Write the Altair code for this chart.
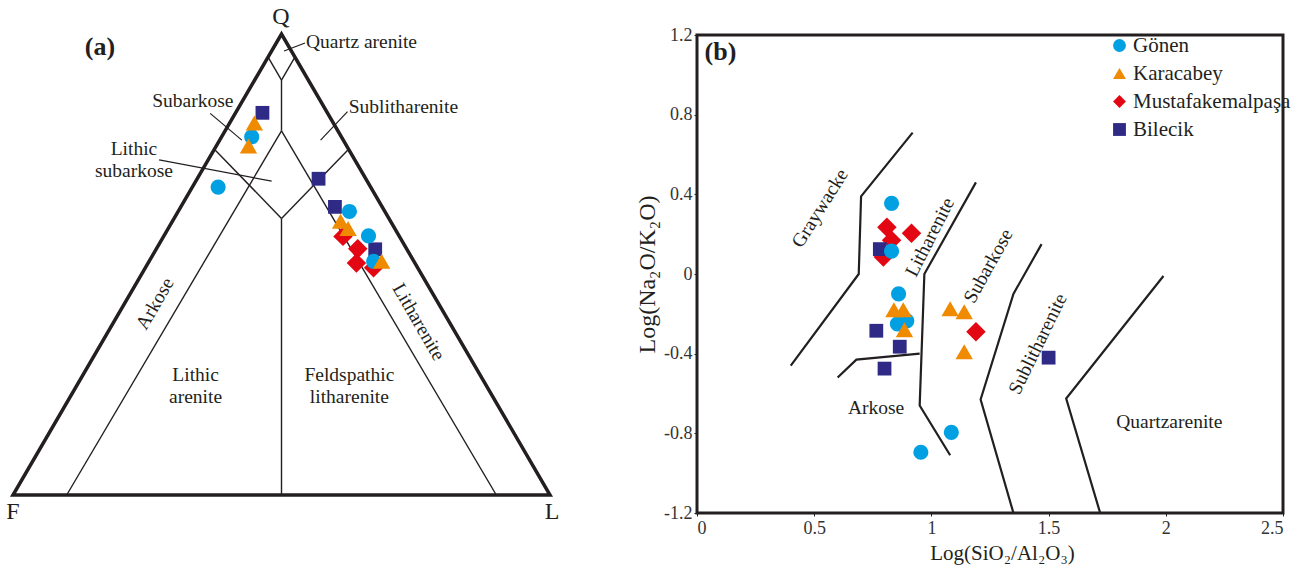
import json
import altair as alt
import pandas as pd

FONT = "Liberation Serif"
INK = "#231f20"
LABEL_SIZE = 19.5

# ---------------- shared series definitions ----------------
groups = ["Gönen", "Karacabey", "Mustafakemalpaşa", "Bilecik"]
group_colors = ["#00a0e3", "#f08a00", "#e30613", "#2e2a85"]
group_shapes = ["circle", "triangle-up", "diamond", "square"]
group_sizes = [230, 300, 380, 190]

# ---------------- panel (a): QFL percentages ----------------
qfl_group = (["Mustafakemalpaşa"] * 4 + ["Bilecik"] * 4 + ["Gönen"] * 5 + ["Karacabey"] * 5)
qfl_Q = [56.1, 53.4, 50.3, 49.3, 82.9, 68.6, 62.5, 53.3, 77.7, 66.8, 61.5, 56.2, 50.7, 80.7, 75.7, 59.4, 57.8, 50.7]
qfl_F = [10.5, 9.1, 10.9, 8.2, 12.1, 8.8, 8.8, 5.9, 16.7, 28.4, 6.6, 5.7, 7.5, 14.7, 18.3, 9.3, 8.7, 6.0]
qfl_L = [33.4, 37.5, 38.8, 42.5, 5.0, 22.6, 28.7, 40.8, 5.6, 4.8, 31.9, 38.1, 41.8, 4.6, 6.0, 31.3, 33.5, 43.3]

# outer triangle (Q, L in %)
tri_Q = [0, 0, 100]
tri_L = [0, 100, 0]

# field boundaries (pairs of ternary points, Q and L in %)
bnd_seg = [0, 0, 1, 1, 2, 2, 3, 3, 4, 4, 5, 5, 6, 6, 7, 7]
bnd_Q = [95, 90, 95, 90, 90, 79, 79, 0, 79, 0, 75, 60, 75, 60, 60, 0]
bnd_L = [0, 5, 5, 5, 5, 10.5, 10.5, 10, 10.5, 90, 0, 20, 25, 20, 20, 50]

# leader lines (diagram coordinates: base fraction, Q fraction)
lead_seg = [0, 0, 1, 1, 2, 2, 3, 3]
lead_x = [0.5047, 0.5438, 0.3672, 0.4261, 0.6229, 0.5728, 0.2721, 0.4817]
lead_y = [0.9631, 0.9805, 0.8278, 0.7698, 0.8317, 0.7698, 0.7269, 0.6809]

# labels of panel (a)
laba_text = ["Subarkose", "Sublitharenite", "Lithic", "subarkose", "Lithic", "arenite", "Feldspathic", "litharenite"]
laba_x = [0.335, 0.727, 0.2253, 0.2253, 0.34, 0.34, 0.6264, 0.6264]
laba_y = [0.855, 0.842, 0.7505, 0.703, 0.2603, 0.2126, 0.2603, 0.2126]
rota_text = ["Arkose", "Litharenite"]
rota_x = [0.2644, 0.7553]
rota_y = [0.415, 0.3753]
rota_ang = [300, 60]
vert_text = ["Q", "F", "L"]
vert_x = [0.499, 0.0, 1.004]
vert_y = [1.037, -0.037, -0.037]

# ---------------- panel (b): Log(SiO2/Al2O3) vs Log(Na2O/K2O) ----------------
b_group = (["Mustafakemalpaşa"] * 5 + ["Bilecik"] * 5 + ["Gönen"] * 7 + ["Karacabey"] * 6)
b_x = [0.81, 0.83, 0.795, 0.915, 1.19,
       0.78, 0.765, 0.865, 0.80, 1.50,
       0.83, 0.83, 0.86, 0.855, 0.895, 1.085, 0.955,
       0.84, 0.88, 0.885, 1.08, 1.14, 1.14]
b_y = [0.235, 0.17, 0.085, 0.205, -0.29,
       0.125, -0.285, -0.365, -0.475, -0.42,
       0.355, 0.115, -0.10, -0.25, -0.235, -0.795, -0.895,
       -0.18, -0.18, -0.28, -0.175, -0.19, -0.39]

line_id = [0, 0, 0, 0, 1, 1, 1, 2, 2, 2, 2, 3, 3, 3, 3, 4, 4, 4]
line_x = [0.40, 0.69, 0.70, 0.92, 0.60, 0.68, 0.95, 1.08, 0.95, 0.97, 1.19, 1.35, 1.21, 1.35, 1.47, 1.72, 1.575, 1.99]
line_y = [-0.46, 0.0, 0.39, 0.71, -0.52, -0.43, -0.40, -0.91, -0.66, 0.0, 0.46, -1.2, -0.63, -0.10, 0.15, -1.2, -0.625, -0.01]

labb_text = ["Graywacke", "Litharenite", "Subarkose", "Sublitharenite"]
labb_x = [0.525, 0.994, 1.243, 1.454]
labb_y = [0.33, 0.185, 0.04, -0.351]
labb_ang = [302, 297, 299, 296]
hlab_text = ["Arkose", "Quartzarenite"]
hlab_x = [0.764, 2.015]
hlab_y = [-0.673, -0.745]

x_ticks = [0, 0.5, 1, 1.5, 2, 2.5]
y_ticks = [-1.2, -0.8, -0.4, 0, 0.4, 0.8, 1.2]

# marker size looked up per group inside Vega
SIZE_EXPR = "%s[indexof(%s, datum.group)]" % (json.dumps(group_sizes), json.dumps(groups, ensure_ascii=False))

# ================= panel (a) =================
XA = alt.Scale(domain=[-0.02421, 1.09311], nice=False, zero=False)
YA = alt.Scale(domain=[-0.03905, 0.99783], nice=False, zero=False)

def tern_chart(df):
    return alt.Chart(df).transform_calculate(
        px="(datum.L + datum.Q / 2) / 100", py="datum.Q / 100"
    )

tri_df = pd.DataFrame({"Q": tri_Q, "L": tri_L, "i": list(range(len(tri_Q)))})
outer = tern_chart(tri_df).mark_line(
    interpolate="linear-closed", color=INK, strokeWidth=3.5, strokeJoin="miter"
).encode(
    x=alt.X("px:Q", scale=XA, axis=None),
    y=alt.Y("py:Q", scale=YA, axis=None),
    order="i:Q",
)

bnd_df = pd.DataFrame({"seg": bnd_seg, "Q": bnd_Q, "L": bnd_L, "i": list(range(len(bnd_Q)))})
bounds_a = tern_chart(bnd_df).mark_line(color=INK, strokeWidth=1.4).encode(
    x=alt.X("px:Q", scale=XA, axis=None),
    y=alt.Y("py:Q", scale=YA, axis=None),
    detail="seg:N",
    order="i:Q",
)

lead_df = pd.DataFrame({"seg": lead_seg, "x": lead_x, "y": lead_y, "i": list(range(len(lead_x)))})
leaders = alt.Chart(lead_df).mark_line(color=INK, strokeWidth=1.2).encode(
    x=alt.X("x:Q", scale=XA, axis=None),
    y=alt.Y("y:Q", scale=YA, axis=None),
    detail="seg:N",
    order="i:Q",
)

pts_a_df = pd.DataFrame({"group": qfl_group, "Q": qfl_Q, "F": qfl_F, "L": qfl_L})
pts_a = tern_chart(pts_a_df).transform_calculate(sz=SIZE_EXPR).mark_point(
    filled=True, opacity=1, strokeWidth=0
).encode(
    x=alt.X("px:Q", scale=XA, axis=None),
    y=alt.Y("py:Q", scale=YA, axis=None),
    color=alt.Color("group:N", scale=alt.Scale(domain=groups, range=group_colors), legend=None),
    shape=alt.Shape("group:N", scale=alt.Scale(domain=groups, range=group_shapes), legend=None),
    size=alt.Size("sz:Q", scale=None),
)

laba = alt.Chart(pd.DataFrame({"t": laba_text, "x": laba_x, "y": laba_y})).mark_text(
    font=FONT, fontSize=LABEL_SIZE, color=INK, align="center", baseline="middle"
).encode(x=alt.X("x:Q", scale=XA, axis=None), y=alt.Y("y:Q", scale=YA, axis=None), text="t:N")

rota = alt.Chart(pd.DataFrame({"t": rota_text, "x": rota_x, "y": rota_y, "a": rota_ang})).mark_text(
    font=FONT, fontSize=LABEL_SIZE, color=INK, align="center", baseline="middle"
).encode(
    x=alt.X("x:Q", scale=XA, axis=None), y=alt.Y("y:Q", scale=YA, axis=None), text="t:N",
    angle=alt.Angle("a:Q", scale=None),
)

verts = alt.Chart(pd.DataFrame({"t": vert_text, "x": vert_x, "y": vert_y})).mark_text(
    font=FONT, fontSize=24, color=INK, align="center", baseline="middle"
).encode(x=alt.X("x:Q", scale=XA, axis=None), y=alt.Y("y:Q", scale=YA, axis=None), text="t:N")

qa = alt.Chart(pd.DataFrame({"t": ["Quartz arenite"], "x": [0.5456], "y": [0.9826]})).mark_text(
    font=FONT, fontSize=LABEL_SIZE, color=INK, align="left", baseline="middle"
).encode(x=alt.X("x:Q", scale=XA, axis=None), y=alt.Y("y:Q", scale=YA, axis=None), text="t:N")

tag_a = alt.Chart(pd.DataFrame({"t": ["(a)"], "x": [0.162], "y": [0.972]})).mark_text(
    font=FONT, fontSize=26, fontWeight="bold", color=INK, align="center", baseline="middle"
).encode(x=alt.X("x:Q", scale=XA, axis=None), y=alt.Y("y:Q", scale=YA, axis=None), text="t:N")

panel_a = alt.layer(outer, bounds_a, leaders, laba, rota, verts, qa, tag_a, pts_a).properties(
    width=600, height=478, view=alt.ViewBackground(strokeWidth=0)
)

# ================= panel (b) =================
XB = alt.Scale(domain=[0, 2.5], nice=False, zero=False)
YB = alt.Scale(domain=[-1.2, 1.2], nice=False, zero=False)
lab_expr = "(datum.value < 0 ? '-' : '') + format(abs(datum.value), '~g')"

x_axis = alt.Axis(
    values=x_ticks, labelExpr=lab_expr, grid=False, domain=False, tickSize=3, tickColor=INK,
    labelFont=FONT, labelFontSize=18, labelColor="#333333", labelPadding=3,
    title="Log(SiO₂/Al₂O₃)", titleFont=FONT, titleFontSize=21, titleFontWeight="normal",
    titleColor=INK, titlePadding=5, titleX=305, titleAlign="center",
)
y_axis = alt.Axis(
    values=y_ticks, labelExpr=lab_expr, grid=False, domain=False, tickSize=3, tickColor=INK,
    labelFont=FONT, labelFontSize=18, labelColor="#333333", labelPadding=2,
    title="Log(Na₂O/K₂O)", titleFont=FONT, titleFontSize=24, titleFontWeight="normal",
    titleColor=INK, titlePadding=4,
)

lines_df = pd.DataFrame({"id": line_id, "x": line_x, "y": line_y, "i": list(range(len(line_x)))})
lines_b = alt.Chart(lines_df).mark_line(color=INK, strokeWidth=2.2).encode(
    x=alt.X("x:Q", scale=XB, axis=x_axis),
    y=alt.Y("y:Q", scale=YB, axis=y_axis),
    detail="id:N",
    order="i:Q",
)

legend_b = alt.Legend(
    orient="none", legendX=412, legendY=0, title=None, symbolSize=165,
    labelFont=FONT, labelFontSize=21, labelColor=INK, labelOffset=3,
    rowPadding=6, padding=0, symbolStrokeWidth=0,
)
pts_b_df = pd.DataFrame({"group": b_group, "x": b_x, "y": b_y})
pts_b = alt.Chart(pts_b_df).transform_calculate(sz=SIZE_EXPR).mark_point(
    filled=True, opacity=1, strokeWidth=0
).encode(
    x=alt.X("x:Q", scale=XB, axis=x_axis),
    y=alt.Y("y:Q", scale=YB, axis=y_axis),
    color=alt.Color("group:N", scale=alt.Scale(domain=groups, range=group_colors), legend=legend_b),
    shape=alt.Shape("group:N", scale=alt.Scale(domain=groups, range=group_shapes), legend=legend_b),
    size=alt.Size("sz:Q", scale=None),
)

labb = alt.Chart(pd.DataFrame({"t": labb_text, "x": labb_x, "y": labb_y, "a": labb_ang})).mark_text(
    font=FONT, fontSize=LABEL_SIZE, color=INK, align="center", baseline="middle"
).encode(
    x=alt.X("x:Q", scale=XB), y=alt.Y("y:Q", scale=YB), text="t:N",
    angle=alt.Angle("a:Q", scale=None),
)
hlab = alt.Chart(pd.DataFrame({"t": hlab_text, "x": hlab_x, "y": hlab_y})).mark_text(
    font=FONT, fontSize=LABEL_SIZE, color=INK, align="center", baseline="middle"
).encode(x=alt.X("x:Q", scale=XB), y=alt.Y("y:Q", scale=YB), text="t:N")
tag_b = alt.Chart(pd.DataFrame({"t": ["(b)"], "x": [0.10], "y": [1.113]})).mark_text(
    font=FONT, fontSize=26, fontWeight="bold", color=INK, align="center", baseline="middle"
).encode(x=alt.X("x:Q", scale=XB), y=alt.Y("y:Q", scale=YB), text="t:N")

panel_b = alt.layer(lines_b, labb, hlab, tag_b, pts_b).properties(
    width=586, height=478,
    view=alt.ViewBackground(stroke=INK, strokeWidth=3),
    title=alt.TitleParams(text=" ", fontSize=10, offset=14),
)

chart = alt.hconcat(panel_a, panel_b, spacing=97, bounds="flush", padding=0).resolve_scale(
    color="independent", shape="independent"
).resolve_legend(color="independent", shape="independent").configure(
    font=FONT, background="white"
)

chart.save("out.html", embed_options={"renderer": "svg", "actions": False})
